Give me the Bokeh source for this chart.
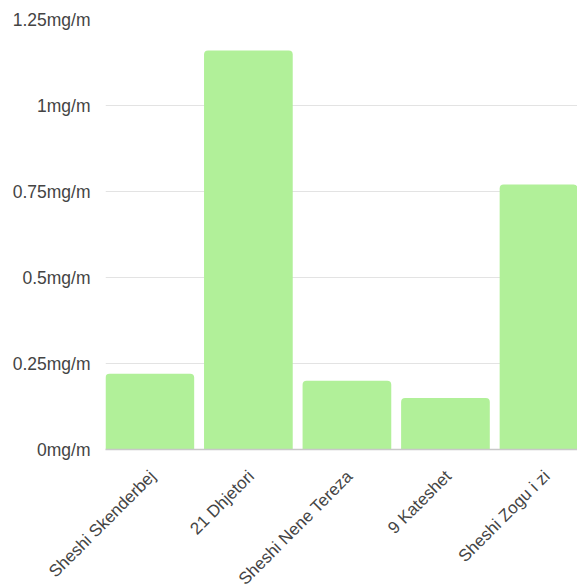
from bokeh.plotting import figure
from bokeh.models import Range1d, FixedTicker, CustomJSTickFormatter, ColumnDataSource
from bokeh.embed import file_html
from bokeh.resources import INLINE
import math

# Measured concentrations per location
locations = ["Sheshi Skenderbej", "21 Dhjetori", "Sheshi Nene Tereza", "9 Kateshet", "Sheshi Zogu i zi"]
values = [0.22, 1.16, 0.20, 0.15, 0.77]
y_ticks = [0, 0.25, 0.5, 0.75, 1, 1.25]
unit = "mg/m"

centers = [i + 0.5 for i in range(len(locations))]
source = ColumnDataSource(data=dict(x=centers, top=values, name=locations))

FONT = "Liberation Sans"
TEXT = "#444444"

p = figure(
    output_backend="svg",
    toolbar_location=None,
    frame_width=472,
    frame_height=430,
    min_border_left=105,
    min_border_right=0,
    min_border_top=19,
    min_border_bottom=136,
    x_range=Range1d(0.05, 4.84),
    y_range=Range1d(0, 1.25),
    background_fill_color="white",
    border_fill_color="white",
)
p.outline_line_color = None

p.vbar(x="x", top="top", width=0.9, bottom=0, source=source,
       fill_color="#b1f099", line_color=None, border_radius=(4, 4, 0, 0))

# y axis
p.yaxis.ticker = FixedTicker(ticks=y_ticks)
p.yaxis.formatter = CustomJSTickFormatter(args=dict(unit=unit), code="return tick + unit;")
p.yaxis.axis_line_color = None
p.yaxis.major_tick_line_color = None
p.yaxis.minor_tick_line_color = None
p.yaxis.major_label_standoff = 9
p.yaxis.major_label_text_font = FONT
p.yaxis.major_label_text_font_size = "17.5px"
p.yaxis.major_label_text_color = TEXT

# x axis: rotated category names, anchored just right of each bar centre
label_shift = 0.03
p.xaxis.ticker = FixedTicker(ticks=[c + label_shift for c in centers])
p.xaxis.major_label_overrides = {c + label_shift: n for c, n in zip(centers, locations)}
p.xaxis.major_label_orientation = math.pi / 4
p.xaxis.axis_line_color = "#c8c8c8"
p.xaxis.axis_line_width = 1.5
p.xaxis.major_tick_line_color = None
p.xaxis.minor_tick_line_color = None
p.xaxis.major_label_standoff = 18
p.xaxis.major_label_text_font = FONT
p.xaxis.major_label_text_font_size = "17px"
p.xaxis.major_label_text_color = TEXT

p.xgrid.grid_line_color = None
p.ygrid.grid_line_color = "#e3e3e3"
p.ygrid.grid_line_width = 1
p.ygrid.ticker = FixedTicker(ticks=y_ticks)

open("out.html", "w").write(file_html(p, INLINE))
